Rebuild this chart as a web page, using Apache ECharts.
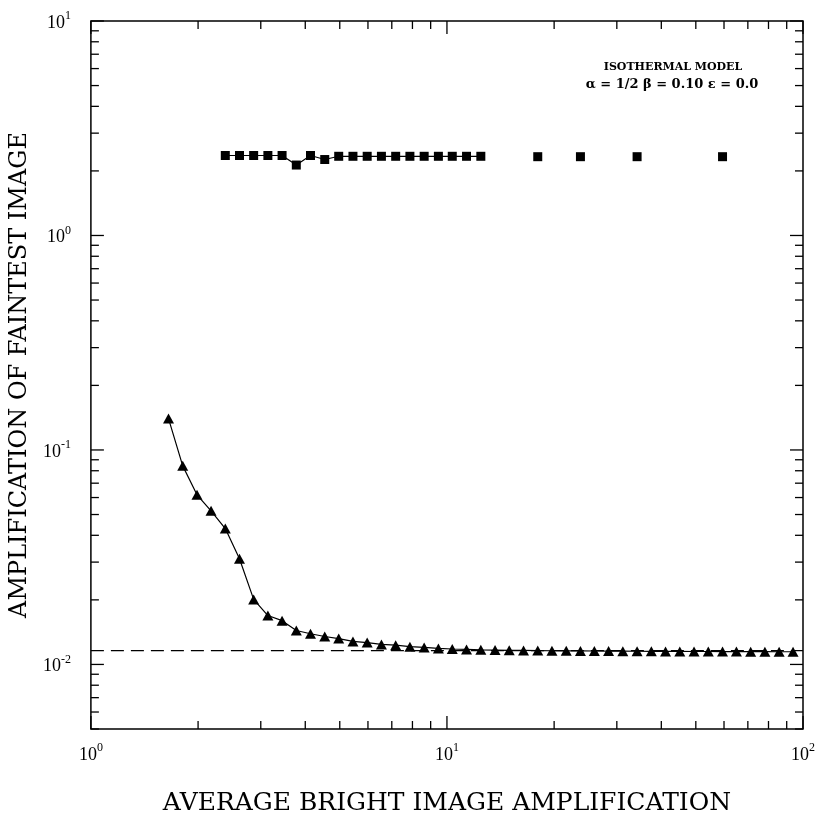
<!DOCTYPE html>
<html>
<head>
<meta charset="utf-8">
<script src="https://cdn.jsdelivr.net/npm/echarts@6/dist/echarts.min.js"></script>
<style>html,body{margin:0;padding:0;background:#fff;}#c{width:818px;height:821px;}</style>
</head>
<body>
<div id="c"></div>
<script>
// ---- data ----
const triX = [1.652,1.811,1.986,2.175,2.385,2.614,2.865,3.141,3.443,3.775,4.138,4.537,4.966,5.445,5.970,6.546,7.178,7.870,8.630,9.462,10.35,11.35,12.45,13.65,14.96,16.41,17.99,19.72,21.63,23.71,25.94,28.44,31.19,34.20,37.50,41.11,45.08,49.43,54.20,59.43,65.01,71.29,78.16,85.70,93.76];
const triY = [0.140,0.0843,0.0618,0.052,0.043,0.0311,0.0201,0.0169,0.0160,0.0144,0.0139,0.0135,0.0132,0.0128,0.01265,0.0124,0.0123,0.0121,0.0120,0.01188,0.01180,0.01175,0.01170,0.01167,0.01164,0.01162,0.01160,0.01158,0.01157,0.01156,0.01155,0.01154,0.01153,0.01152,0.01151,0.01150,0.01150,0.01149,0.01149,0.01148,0.01148,0.01147,0.01147,0.01146,0.01146];
const sqLineX = [2.385,2.614,2.865,3.141,3.443,3.775,4.138,4.537,4.966,5.445,5.970,6.546,7.178,7.870,8.630,9.462,10.35,11.35,12.45];
const sqLineY = [2.36,2.36,2.36,2.36,2.36,2.13,2.36,2.26,2.34,2.34,2.34,2.34,2.34,2.34,2.34,2.34,2.34,2.34,2.34];
const sqDotX = [17.99,23.71,34.20,59.43];
const sqDotY = [2.33,2.33,2.33,2.33];
const dashX = [1,100];
const dashY = [0.0116,0.0116];
const xMajor = [1,10,100];
const yMajor = [0.01,0.1,1,10];
const xMin = 1, xMax = 100, yMin = 0.005, yMax = 10;
const xTitle = 'AVERAGE BRIGHT IMAGE AMPLIFICATION';
const yTitle = 'AMPLIFICATION OF FAINTEST IMAGE';
const note1 = 'ISOTHERMAL MODEL';
const note2 = 'α = 1/2 β = 0.10 ε = 0.0';

// ---- tick marks (all four sides) ----
const tickData = [];
xMajor.forEach(v => tickData.push([v, yMin, 0, 13]));
[1,10].forEach(d => { for (let m = 2; m <= 9; m++) tickData.push([d*m, yMin, 0, 8]); });
yMajor.forEach(v => tickData.push([xMin, v, 1, 13]));
[0.001,0.01,0.1,1].forEach(d => { for (let m = 2; m <= 9; m++) { const v = d*m; if (v >= yMin - 1e-12 && v <= yMax) tickData.push([xMin, v, 1, 8]); } });

const serif = 'Liberation Serif';
const titleFont = 'DejaVu Serif';
const labelFmt = v => {
  const l = Math.log10(v), e = Math.round(l);
  if (Math.abs(l - e) > 1e-6) return '';
  return '{b|10}{s|' + e + '}';
};
const rich = {
  b: {fontFamily: serif, fontSize: 18, color: '#000', verticalAlign: 'bottom'},
  s: {fontFamily: serif, fontSize: 12, color: '#000', verticalAlign: 'top', padding: [0,0,10,0]}
};

const chart = echarts.init(document.getElementById('c'));
chart.setOption({
  animation: false,
  backgroundColor: '#fff',
  grid: {left: 90, right: 12, top: 21, bottom: 87, show: true, borderColor: '#000', borderWidth: 1.5, backgroundColor: 'transparent'},
  xAxis: {
    type: 'log', logBase: 10, min: xMin, max: xMax,
    axisLine: {show: false}, axisTick: {show: false}, splitLine: {show: false}, minorTick: {show: false},
    axisLabel: {formatter: labelFmt, rich: rich, margin: 13, showMinLabel: true, showMaxLabel: true},
    name: xTitle, nameLocation: 'middle', nameGap: 62,
    nameTextStyle: {fontFamily: titleFont, fontSize: 25, color: '#000'}
  },
  yAxis: {
    type: 'log', logBase: 10, min: yMin, max: yMax,
    axisLine: {show: false}, axisTick: {show: false}, splitLine: {show: false}, minorTick: {show: false},
    axisLabel: {formatter: labelFmt, rich: rich, margin: 20},
    name: yTitle, nameLocation: 'middle', nameGap: 55,
    nameTextStyle: {fontFamily: titleFont, fontSize: 24, color: '#000'}
  },
  graphic: [
    {type: 'text', x: 673, y: 67, style: {text: note1, font: 'bold 11px "DejaVu Serif"', fill: '#000', textAlign: 'center', textVerticalAlign: 'middle'}},
    {type: 'text', x: 672, y: 85, style: {text: note2, font: 'bold 13px "DejaVu Serif"', fill: '#000', textAlign: 'center', textVerticalAlign: 'middle'}}
  ],
  series: [
    {type: 'line', data: dashX.map((x, i) => [x, dashY[i]]), showSymbol: false, symbol: 'none',
     lineStyle: {color: '#000', width: 1.3, type: [13, 7]}, silent: true, z: 1},
    {type: 'line', data: triX.map((x, i) => [x, triY[i]]), symbol: 'triangle', symbolSize: [11, 10],
     itemStyle: {color: '#000', opacity: 1}, lineStyle: {color: '#000', width: 1.2}, silent: true, z: 3},
    {type: 'line', data: sqLineX.map((x, i) => [x, sqLineY[i]]), symbol: 'rect', symbolSize: 9,
     itemStyle: {color: '#000', opacity: 1}, lineStyle: {color: '#000', width: 1.2}, silent: true, z: 3},
    {type: 'scatter', data: sqDotX.map((x, i) => [x, sqDotY[i]]), symbol: 'rect', symbolSize: 9,
     itemStyle: {color: '#000', opacity: 1}, silent: true, z: 3},
    {type: 'custom', data: tickData, clip: false, silent: true, z: 5,
     encode: {x: 0, y: 1},
     renderItem: function (params, api) {
       const kind = api.value(2), len = api.value(3);
       const st = {stroke: '#000', lineWidth: 1.3};
       if (kind === 0) {
         const v = api.value(0);
         const a = api.coord([v, yMin]), b = api.coord([v, yMax]);
         return {type: 'group', children: [
           {type: 'line', shape: {x1: a[0], y1: a[1], x2: a[0], y2: a[1] - len}, style: st},
           {type: 'line', shape: {x1: b[0], y1: b[1], x2: b[0], y2: b[1] + len}, style: st}
         ]};
       } else {
         const v = api.value(1);
         const a = api.coord([xMin, v]), b = api.coord([xMax, v]);
         return {type: 'group', children: [
           {type: 'line', shape: {x1: a[0], y1: a[1], x2: a[0] + len, y2: a[1]}, style: st},
           {type: 'line', shape: {x1: b[0], y1: b[1], x2: b[0] - len, y2: b[1]}, style: st}
         ]};
       }
     }}
  ]
});
</script>
</body>
</html>
